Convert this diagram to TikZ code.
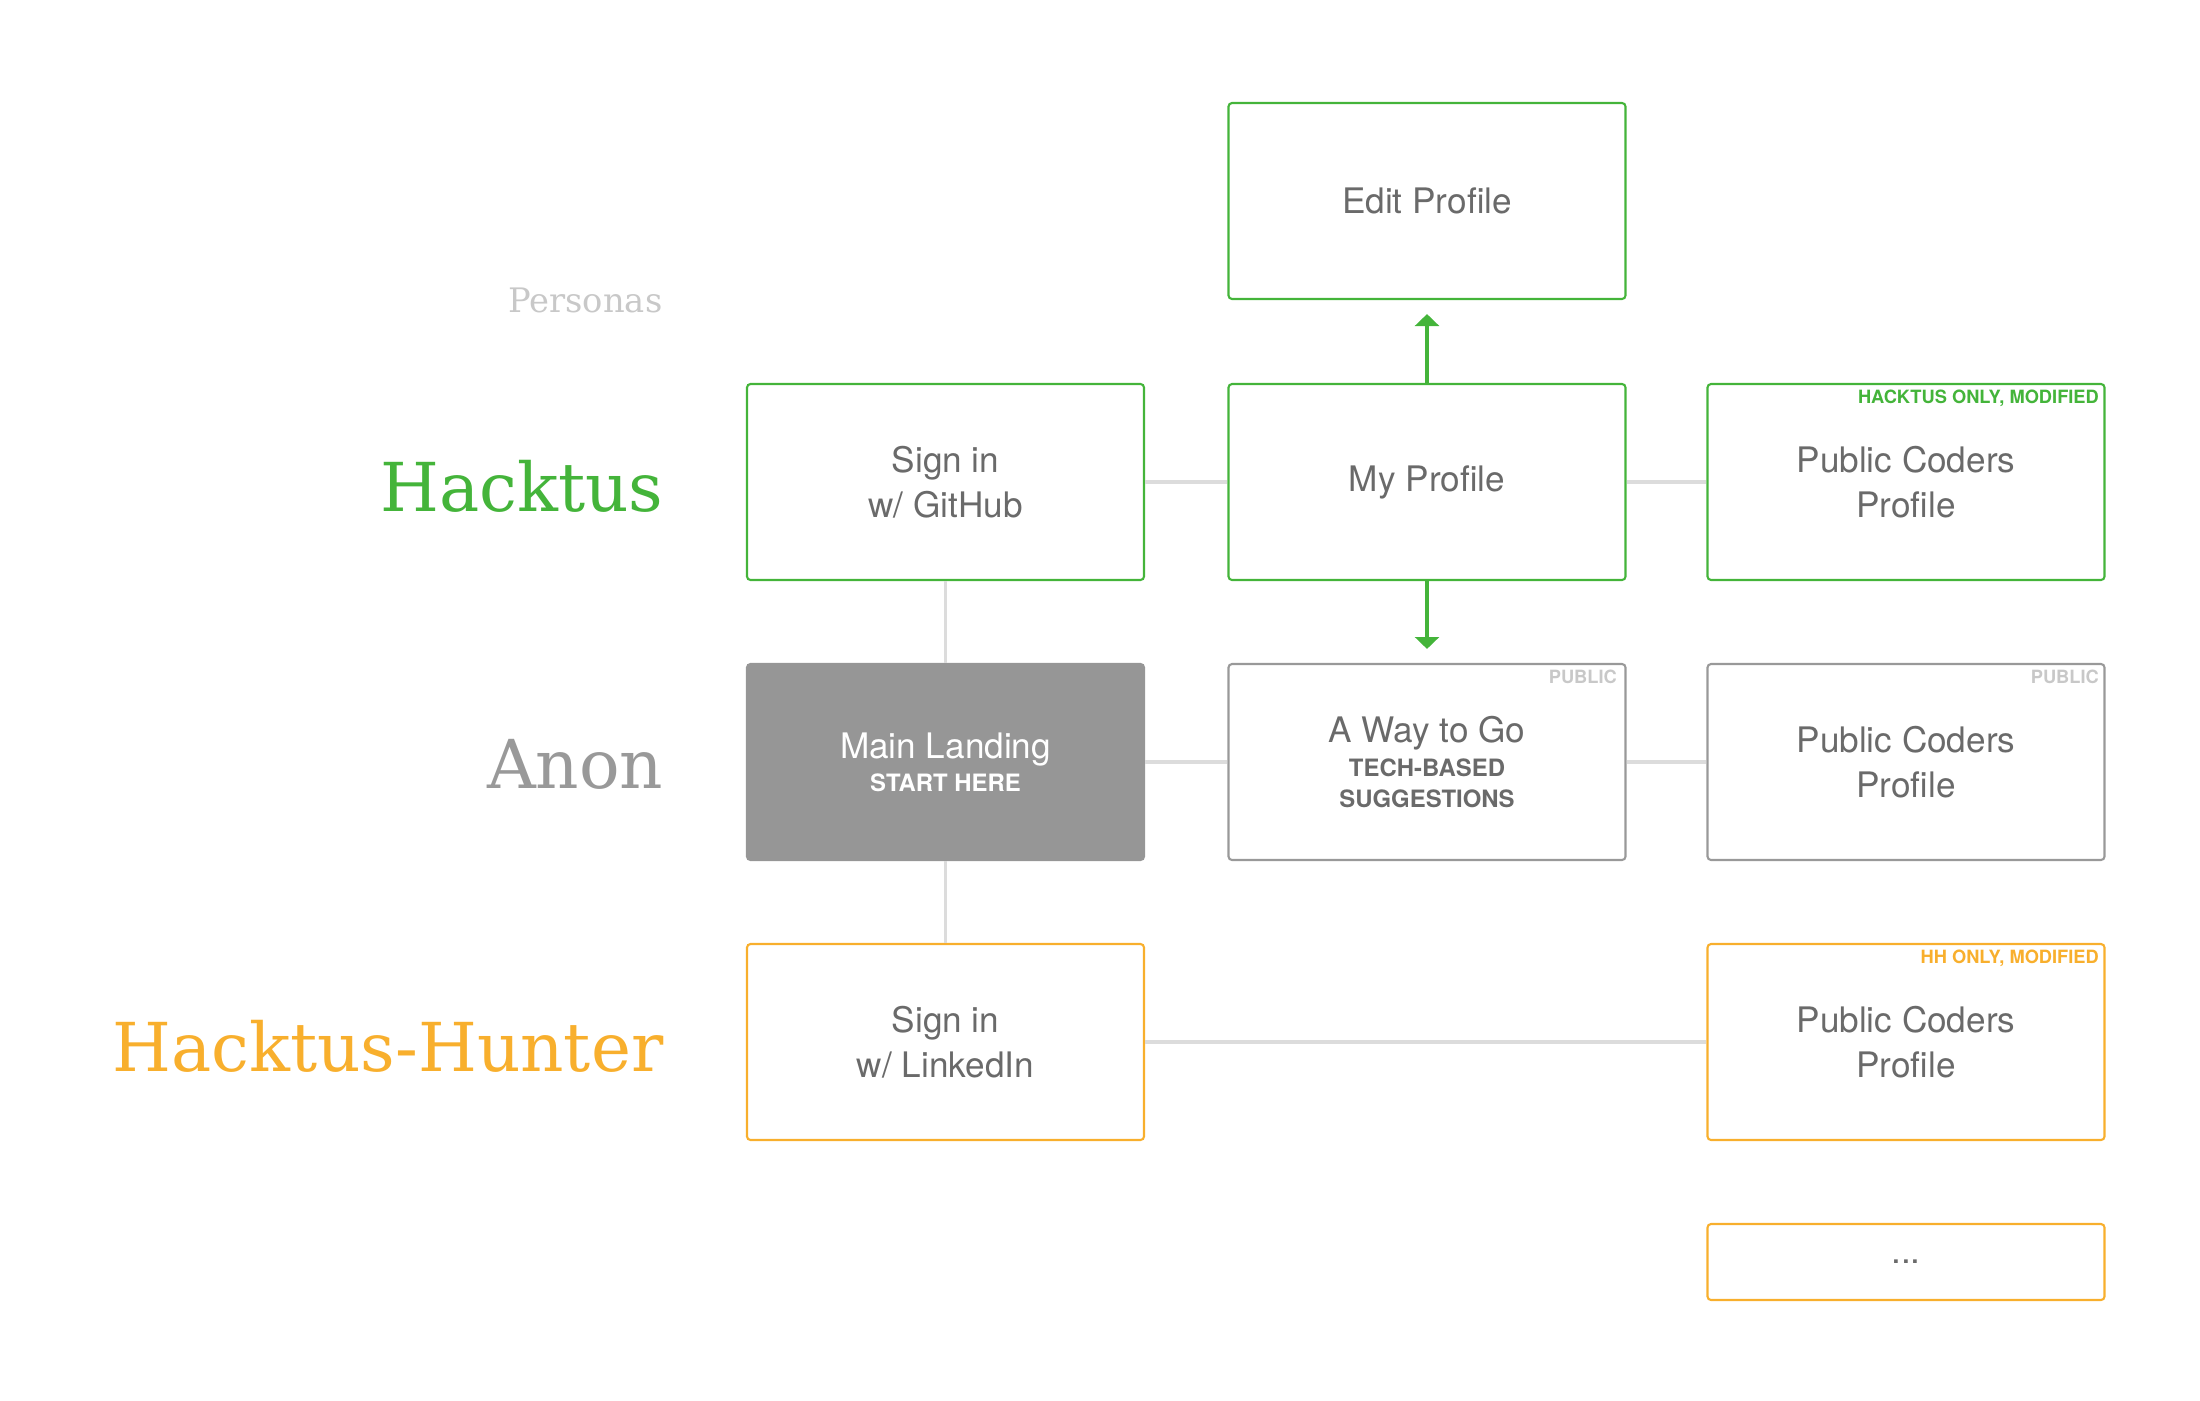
\documentclass[tikz,border=0pt]{standalone}
\usepackage{fontspec}
\setmainfont{TeX Gyre Heros}
\newfontfamily\slabfont{DejaVu Serif}
\usetikzlibrary{arrows.meta}

\definecolor{hackgreen}{HTML}{44B43A}
\definecolor{hunterorange}{HTML}{F8AF2D}
\definecolor{anongray}{HTML}{999999}
\definecolor{landgray}{HTML}{969696}
\definecolor{textgray}{HTML}{6A6A6A}
\definecolor{linkgray}{HTML}{DCDCDC}
\definecolor{faintgray}{HTML}{C8C8C8}

\newcommand{\boxfont}{\fontsize{10}{12.8}\selectfont}
\newcommand{\subfont}{\fontsize{6.8}{8.3}\selectfont\bfseries}

\tikzset{
	page/.style={draw, rectangle, minimum width=3.97cm, minimum height=1.96cm,
		rounded corners=1pt, line width=0.6pt, inner sep=0pt, align=center,
		font=\boxfont, text=textgray},
	tag/.style={anchor=north east, inner sep=0pt, font=\fontsize{5.2}{6}\selectfont\bfseries},
	persona/.style={anchor=base east, inner sep=0pt, font=\slabfont\fontsize{19.2}{22}\selectfont},
	link/.style={linkgray, line width=1.1pt},
	flow/.style={hackgreen, line width=1pt, -{Triangle[width=6.8pt,length=3.4pt]}, shorten >=0.14cm}
}

\begin{document}
\begin{tikzpicture}
	\useasboundingbox (0,0) rectangle (22,-14);

	% persona labels
	\node[persona, faintgray, font=\slabfont\fontsize{9.6}{11}\selectfont] (personas) at (6.63,-3.12) {Personas};
	\node[persona, hackgreen] (hacktus) at (6.64,-5.11) {Hacktus};
	\node[persona, anongray] (anon) at (6.64,-7.88) {Anon};
	\node[persona, hunterorange] (hunter) at (6.64,-10.71) {Hacktus-Hunter};

	% hacktus row
	\node[page, draw=hackgreen] (edit) at (14.27,-2.01) {Edit Profile};
	\node[page, draw=hackgreen] (sgh) at (9.455,-4.82) {Sign in\\w/ GitHub};
	\node[page, draw=hackgreen] (myp) at (14.27,-4.82) {My Profile};
	\node[page, draw=hackgreen] (hpub) at (19.06,-4.82) {Public Coders\\Profile};
	\node[tag, hackgreen] (hpubtag) at ([xshift=-0.06cm,yshift=-0.06cm]hpub.north east) {HACKTUS ONLY, MODIFIED};

	% anon row
	\node[page, draw=landgray, fill=landgray, text=white] (land) at (9.455,-7.62) {Main Landing\\[-3.4pt]\subfont START HERE};
	\node[page, draw=anongray] (way) at (14.27,-7.62) {A Way to Go\\[-3.1pt]\subfont TECH-BASED\\[-3.9pt]\subfont SUGGESTIONS};
	\node[tag, faintgray] (waytag) at ([xshift=-0.09cm,yshift=-0.06cm]way.north east) {PUBLIC};
	\node[page, draw=anongray] (apub) at (19.06,-7.62) {Public Coders\\Profile};
	\node[tag, faintgray] (apubtag) at ([xshift=-0.06cm,yshift=-0.06cm]apub.north east) {PUBLIC};

	% hunter row
	\node[page, draw=hunterorange] (sli) at (9.455,-10.42) {Sign in\\w/ LinkedIn};
	\node[page, draw=hunterorange] (hhpub) at (19.06,-10.42) {Public Coders\\Profile};
	\node[tag, hunterorange] (hhpubtag) at ([xshift=-0.06cm,yshift=-0.06cm]hhpub.north east) {HH ONLY, MODIFIED};
	\node[page, draw=hunterorange, minimum height=0.76cm] (more) at (19.06,-12.62) {...};

	% connectors
	\draw[link] (sgh) -- (myp);
	\draw[link] (myp) -- (hpub);
	\draw[link] (sgh) -- (land);
	\draw[link] (land) -- (way);
	\draw[link] (way) -- (apub);
	\draw[link] (land) -- (sli);
	\draw[link] (sli) -- (hhpub);
	\draw[flow] (myp) -- (edit);
	\draw[flow] (myp) -- (way);
\end{tikzpicture}
\end{document}
